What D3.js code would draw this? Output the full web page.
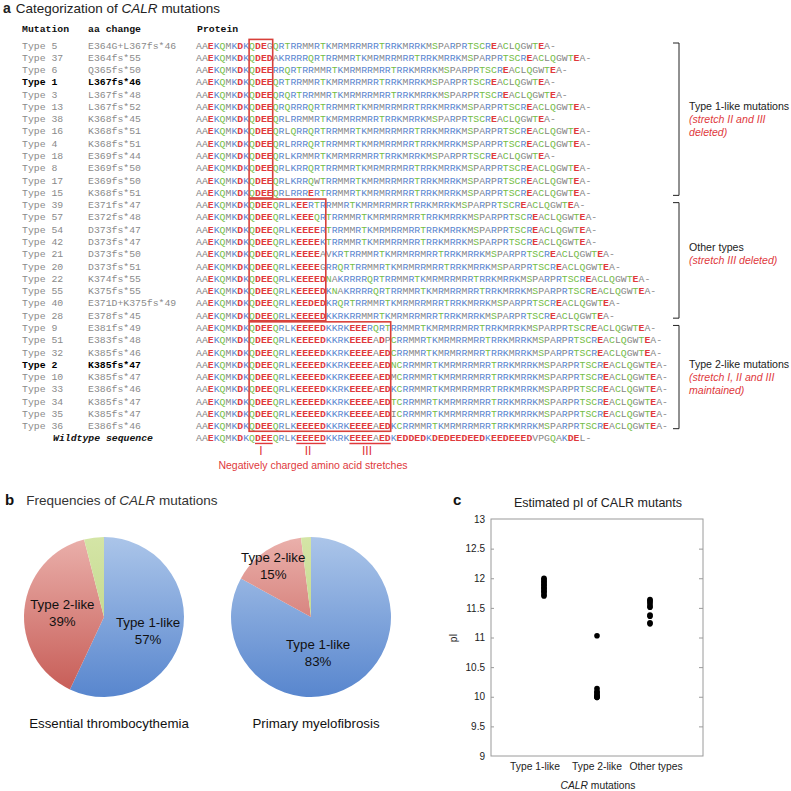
<!DOCTYPE html>
<html><head><meta charset="utf-8">
<script src="https://cdn.jsdelivr.net/npm/d3@7"></script>
<style>body{margin:0;background:#fff}svg{display:block}</style>
</head><body>
<script>
// ---------- DATA ----------
const mutationNames = ["Type 5","Type 37","Type 6","Type 1","Type 3","Type 13","Type 38","Type 16","Type 4","Type 18","Type 8","Type 17","Type 15",
  "Type 39","Type 57","Type 54","Type 42","Type 21","Type 20","Type 22","Type 55","Type 40","Type 28",
  "Type 9","Type 51","Type 32","Type 2","Type 10","Type 33","Type 34","Type 35","Type 36"];
const aaChanges = ["E364G+L367fs*46","E364fs*55","Q365fs*50","L367fs*46","L367fs*48","L367fs*52","K368fs*45","K368fs*51","K368fs*51","E369fs*44","E369fs*50","E369fs*50","K368fs*51",
  "E371fs*47","E372fs*48","D373fs*47","D373fs*47","D373fs*50","D373fs*51","K374fs*55","K375fs*55","E371D+K375fs*49","E378fs*45",
  "E381fs*49","E383fs*48","K385fs*46","K385fs*47","K385fs*47","E386fs*46","K385fs*47","K385fs*47","E386fs*46"];
const proteinSeqs = [
"AAEKQMKDKQDEGQRTRRMMRTKMRMRRMRRTRRKMRRKMSPARPRTSCREACLQGWTEA-",
"AAEKQMKDKQDEDAKRRRRQRTRRMMRTKMRMRRMRRTRRKMRRKMSPARPRTSCREACLQGWTEA-",
"AAEKQMKDKQDEERRQRTRRMMRTKMRMRRMRRTRRKMRRKMSPARPRTSCREACLQGWTEA-",
"AAEKQMKDKQDEEQRTRRMMRTKMRMRRMRRTRRKMRRKMSPARPRTSCREACLQGWTEA-",
"AAEKQMKDKQDEEQRQRTRRMMRTKMRMRRMRRTRRKMRRKMSPARPRTSCREACLQGWTEA-",
"AAEKQMKDKQDEEQRQRRRQRTRRMMRTKMRMRRMRRTRRKMRRKMSPARPRTSCREACLQGWTEA-",
"AAEKQMKDKQDEEQRLRRMMRTKMRMRRMRRTRRKMRRKMSPARPRTSCREACLQGWTEA-",
"AAEKQMKDKQDEEQRLQRRQRTRRMMRTKMRMRRMRRTRRKMRRKMSPARPRTSCREACLQGWTEA-",
"AAEKQMKDKQDEEQRLRRRQRTRRMMRTKMRMRRMRRTRRKMRRKMSPARPRTSCREACLQGWTEA-",
"AAEKQMKDKQDEEQRLKRMMRTKMRMRRMRRTRRKMRRKMSPARPRTSCREACLQGWTEA-",
"AAEKQMKDKQDEEQRLKRRQRTRRMMRTKMRMRRMRRTRRKMRRKMSPARPRTSCREACLQGWTEA-",
"AAEKQMKDKQDEEQRLKRRQWTRRMMRTKMRMRRMRRTRRKMRRKMSPARPRTSCREACLQGWTEA-",
"AAEKQMKDKQDEEQRLRRRERTRRMMRTKMRMRRMRRTRRKMRRKMSPARPRTSCREACLQGWTEA-",
"AAEKQMKDKQDEEQRLKEERTRRMMRTKMRMRRMRRTRRKMRRKMSPARPRTSCREACLQGWTEA-",
"AAEKQMKDKQDEEQRLKEEEQRTRRMMRTKMRMRRMRRTRRKMRRKMSPARPRTSCREACLQGWTEA-",
"AAEKQMKDKQDEEQRLKEEEERTRRMMRTKMRMRRMRRTRRKMRRKMSPARPRTSCREACLQGWTEA-",
"AAEKQMKDKQDEEQRLKEEEEKTRRMMRTKMRMRRMRRTRRKMRRKMSPARPRTSCREACLQGWTEA-",
"AAEKQMKDKQDEEQRLKEEEEAVKRTRRMMRTKMRMRRMRRTRRKMRRKMSPARPRTSCREACLQGWTEA-",
"AAEKQMKDKQDEEQRLKEEEEGRRQRTRRMMRTKMRMRRMRRTRRKMRRKMSPARPRTSCREACLQGWTEA-",
"AAEKQMKDKQDEEQRLKEEEEDNAKRRRRQRTRRMMRTKMRMRRMRRTRRKMRRKMSPARPRTSCREACLQGWTEA-",
"AAEKQMKDKQDEEQRLKEEEEDKNAKRRRRQRTRRMMRTKMRMRRMRRTRRKMRRKMSPARPRTSCREACLQGWTEA-",
"AAEKQMKDKQDEEQRLKEEDEDKRQRTRRMMRTKMRMRRMRRTRRKMRRKMSPARPRTSCREACLQGWTEA-",
"AAEKQMKDKQDEEQRLKEEEEDKKRKRRMMRTKMRMRRMRRTRRKMRRKMSPARPRTSCREACLQGWTEA-",
"AAEKQMKDKQDEEQRLKEEEEDKKRKEEERQRTRRMMRTKMRMRRMRRTRRKMRRKMSPARPRTSCREACLQGWTEA-",
"AAEKQMKDKQDEEQRLKEEEEDKKRKEEEEADPCRRMMRTKMRMRRMRRTRRKMRRKMSPARPRTSCREACLQGWTEA-",
"AAEKQMKDKQDEEQRLKEEEEDKKRKEEEEAEDCRRMMRTKMRMRRMRRTRRKMRRKMSPARPRTSCREACLQGWTEA-",
"AAEKQMKDKQDEEQRLKEEEEDKKRKEEEEAEDNCRRMMRTKMRMRRMRRTRRKMRRKMSPARPRTSCREACLQGWTEA-",
"AAEKQMKDKQDEEQRLKEEEEDKKRKEEEEAEDMCRRMMRTKMRMRRMRRTRRKMRRKMSPARPRTSCREACLQGWTEA-",
"AAEKQMKDKQDEEQRLKEEEEDKKRKEEEEAEDKCRRMMRTKMRMRRMRRTRRKMRRKMSPARPRTSCREACLQGWTEA-",
"AAEKQMKDKQDEEQRLKEEEEDKKRKEEEEAEDTCRRMMRTKMRMRRMRRTRRKMRRKMSPARPRTSCREACLQGWTEA-",
"AAEKQMKDKQDEEQRLKEEEEDKKRKEEEEAEDICRRMMRTKMRMRRMRRTRRKMRRKMSPARPRTSCREACLQGWTEA-",
"AAEKQMKDKQDEEQRLKEEEEDKKRKEEEEAEDKCRRMMRTKMRMRRMRRTRRKMRRKMSPARPRTSCREACLQGWTEA-"];
const wildtypeSeq = "AAEKQMKDKQDEEQRLKEEEEDKKRKEEEEAEDKEDDEDKDEDEEDEEDKEEDEEEDVPGQAKDEL-";
const boldMutations = ["Type 1","Type 2"];
const groupFirstRow = [0, 13, 23];
const groupLastRow = [12, 22, 31];
const groupBoxLastCol = [12, 21, 32];
const groupTitles = ["Type 1-like mutations","Other types","Type 2-like mutations"];
const groupNotes = [["(stretch II and III","deleted)"],["(stretch III deleted)"],["(stretch I, II and III","maintained)"]];
const stretchNames = ["I","II","III"];
const stretchFirstCol = [10, 17, 26];
const stretchLastCol = [12, 21, 32];

const pieCategories = ["Type 1-like","Type 2-like","Other types"];
const etValues = [57, 39, 4];
const pmfValues = [83, 15, 2];
const etLabels = ["57%","39%",""];
const pmfLabels = ["83%","15%",""];
const pieNames = ["Essential thrombocythemia","Primary myelofibrosis"];

const piCategories = ["Type 1-like","Type 2-like","Other types"];
const piType1Like = [12.0, 11.98, 11.95, 11.93, 11.9, 11.88, 11.85, 11.83, 11.8, 11.78, 11.76, 11.72, 11.7];
const piType2Like = [11.03, 10.14, 10.09, 10.07, 10.04, 10.02, 10.0, 9.99, 9.99];
const piOther = [11.64, 11.62, 11.6, 11.57, 11.53, 11.51, 11.38, 11.36, 11.25, 11.23];
const piTicks = [9, 9.5, 10, 10.5, 11, 11.5, 12, 12.5, 13];

// ---------- SETUP ----------
const svg = d3.select("body").append("svg").attr("width",791).attr("height",791);
const sans = "Helvetica, Arial, 'Liberation Sans', sans-serif";
const mono = "'Liberation Mono','Courier New',monospace";
const RED = "#e0393c", BLUE = "#5a86cf", GREEN = "#74bd45", GRAY = "#858585";
const defs = svg.append("defs");

// ---------- PANEL A ----------
const charW = 5.9, seqFs = 9.8;
const xCol = d3.scaleLinear().domain([0,1]).range([196, 196+charW]);
const yRow = d3.scaleLinear().domain([0,1]).range([45, 45+12.28]);

const ta = svg.append("text").attr("x",3).attr("y",13).attr("font-family",sans).attr("font-size",13.5).attr("fill","#222");
ta.append("tspan").attr("font-weight","bold").attr("font-size",14).text("a");
ta.append("tspan").attr("dx",5).text("Categorization of ");
ta.append("tspan").attr("font-style","italic").text("CALR");
ta.append("tspan").text(" mutations");

[["Mutation",22],["aa change",88],["Protein",197]].forEach(([t,x])=>{
  svg.append("text").attr("x",x).attr("y",32).attr("font-family",mono).attr("font-size",seqFs)
    .attr("font-weight","bold").attr("fill","#111").text(t);
});

const rowsG = svg.append("g");
mutationNames.forEach((m,r)=>{
  const b = boldMutations.includes(m);
  rowsG.append("text").attr("x",22).attr("y",yRow(r)+3.5).attr("font-family",mono).attr("font-size",seqFs)
    .attr("font-weight",b?"bold":"normal").attr("fill",b?"#000":"#8a8a8a").text(m);
  rowsG.append("text").attr("x",88).attr("y",yRow(r)+3.5).attr("font-family",mono).attr("font-size",seqFs)
    .attr("font-weight",b?"bold":"normal").attr("fill",b?"#000":"#8a8a8a").text(aaChanges[r]);
});
svg.append("text").attr("x",53).attr("y",yRow(32)+3.5).attr("font-family",mono).attr("font-size",seqFs)
  .attr("font-weight","bold").attr("font-style","italic").attr("fill","#111").text("Wildtype sequence");

const aaColor = c => "DE".includes(c) ? RED : "KRH".includes(c) ? BLUE : "QSTNCY".includes(c) ? GREEN : GRAY;
proteinSeqs.concat([wildtypeSeq]).forEach((s,r)=>{
  rowsG.append("g").selectAll("text").data(s.split("")).join("text")
    .attr("x",(d,i)=>xCol(i)).attr("y",yRow(r)+3.5)
    .attr("font-family",mono).attr("font-size",seqFs)
    .attr("font-weight",d=>"DE".includes(d)?"bold":"normal")
    .attr("fill",aaColor).text(d=>d);
});

// boxes + brackets + group labels
groupFirstRow.forEach((r0,gi)=>{
  const r1 = groupLastRow[gi];
  svg.append("rect").attr("x",xCol(9)).attr("y",yRow(r0)-5.6)
    .attr("width",xCol(groupBoxLastCol[gi]+1)-xCol(9)).attr("height",yRow(r1)-yRow(r0)+11.2)
    .attr("fill","none").attr("stroke","#d8403a").attr("stroke-width",1.6);
  const bx = 679, yt = yRow(r0)-2, yb = yRow(r1)+3;
  svg.append("path").attr("d",`M${bx-6},${yt}H${bx}V${yb}H${bx-6}`).attr("fill","none").attr("stroke","#222").attr("stroke-width",1);
  const mid = (yRow(r0)+yRow(r1))/2;
  svg.append("text").attr("x",689).attr("y",mid-13+4).attr("font-family",sans).attr("font-size",10.6).attr("fill","#222").text(groupTitles[gi]);
  groupNotes[gi].forEach((t,k)=>{
    svg.append("text").attr("x",689).attr("y",mid-13+4+13*(k+1)).attr("font-family",sans).attr("font-size",10.6)
      .attr("font-style","italic").attr("fill",RED).text(t);
  });
});

// stretches under wildtype
stretchNames.forEach((n,i)=>{
  const x0 = xCol(stretchFirstCol[i]), x1 = xCol(stretchLastCol[i]+1);
  svg.append("line").attr("x1",x0).attr("x2",x1).attr("y1",yRow(32)+5.5).attr("y2",yRow(32)+5.5).attr("stroke",RED).attr("stroke-width",1.4);
  svg.append("text").attr("x",(x0+x1)/2-3).attr("y",yRow(32)+17).attr("text-anchor","middle").attr("font-family",sans)
    .attr("font-size",12).attr("fill",RED).text(n);
});
svg.append("text").attr("x",313).attr("y",469).attr("text-anchor","middle").attr("font-family",sans).attr("font-size",10.5)
  .attr("fill",RED).text("Negatively charged amino acid stretches");

// ---------- PANEL B ----------
const tb = svg.append("text").attr("x",5).attr("y",505).attr("font-family",sans).attr("font-size",13.5).attr("fill","#333");
tb.append("tspan").attr("font-weight","bold").attr("font-size",15).attr("fill","#111").text("b");
tb.append("tspan").attr("dx",12).text("Frequencies of ");
tb.append("tspan").attr("font-style","italic").text("CALR");
tb.append("tspan").text(" mutations");

const R = 80, pieCy = 617;
const pieCx = d3.scalePoint().domain(pieNames).range([104, 311]);
const gradStops = [["#abc5e9","#5886ce"],["#eab0ab","#c65a54"],["#d4e5a6","#b8cf7c"]];
const pie = d3.pie().sort(null).value(d=>d);
const arc = d3.arc().innerRadius(0).outerRadius(R);
const labelPolar = [[[46,4],[42,2]],[[36,16],[64,-2]]];
[[etValues,etLabels],[pmfValues,pmfLabels]].forEach(([vals,pl],pi)=>{
  const cx = pieCx(pieNames[pi]);
  gradStops.forEach((st,k)=>{
    const lg = defs.append("linearGradient").attr("id",`g${pi}_${k}`).attr("gradientUnits","userSpaceOnUse")
      .attr("x1",0).attr("x2",0).attr("y1",-R).attr("y2",R);
    lg.append("stop").attr("offset","0%").attr("stop-color",st[0]);
    lg.append("stop").attr("offset","100%").attr("stop-color",st[1]);
  });
  const g = svg.append("g").attr("transform",`translate(${cx},${pieCy})`);
  const arcs = pie(vals);
  g.selectAll("path").data(arcs).join("path").attr("d",arc)
    .attr("fill",(d,k)=>`url(#g${pi}_${k})`);
  arcs.forEach((a,k)=>{
    if(!pl[k]) return;
    const [rr,da] = labelPolar[pi][k];
    const ang = (a.startAngle+a.endAngle)/2 + da*Math.PI/180*((k===0 && pi===1)?1.2:1);
    const lx = rr*Math.sin(ang), ly = -rr*Math.cos(ang);
    g.append("text").attr("x",lx).attr("y",ly-3).attr("text-anchor","middle").attr("font-family",sans)
      .attr("font-size",13.3).attr("fill","#111").text(pieCategories[k]);
    g.append("text").attr("x",lx).attr("y",ly+14).attr("text-anchor","middle").attr("font-family",sans)
      .attr("font-size",13.3).attr("fill","#111").text(pl[k]);
  });
  svg.append("text").attr("x",cx+5).attr("y",728).attr("text-anchor","middle").attr("font-family",sans)
    .attr("font-size",13.3).attr("fill","#111").text(pieNames[pi]);
});

// ---------- PANEL C ----------
svg.append("text").attr("x",453).attr("y",505).attr("font-family",sans).attr("font-size",15).attr("font-weight","bold").attr("fill","#111").text("c");
const px0 = 491, px1 = 703, py0 = 519, py1 = 756;
const xs = d3.scalePoint().domain(piCategories).range([px0, px1]).padding(1);
const ys = d3.scaleLinear().domain([9,13]).range([py1, py0]);
svg.append("text").attr("x",598).attr("y",507).attr("text-anchor","middle").attr("font-family",sans).attr("font-size",12.5)
  .attr("fill","#222").text("Estimated pI of CALR mutants");
svg.append("rect").attr("x",px0).attr("y",py0).attr("width",px1-px0).attr("height",py1-py0)
  .attr("fill","none").attr("stroke","#9a9a9a").attr("stroke-width",1);
const yAxL = d3.axisLeft(ys).tickValues(piTicks).tickSize(0).tickPadding(6).tickFormat(d=>String(d));
const gyl = svg.append("g").attr("transform",`translate(${px0},0)`).call(yAxL);
gyl.select(".domain").remove();
gyl.selectAll("text").attr("font-family",sans).attr("font-size",10).attr("fill","#222");
const yAxR = d3.axisLeft(ys).tickValues(piTicks.slice(1,-1)).tickSize(4).tickFormat("");
const gyr = svg.append("g").attr("transform",`translate(${px1},0)`).call(yAxR);
gyr.select(".domain").remove(); gyr.selectAll("line").attr("stroke","#9a9a9a");
const yAxI = d3.axisRight(ys).tickValues(piTicks.slice(1,-1)).tickSize(3).tickFormat("");
const gyi = svg.append("g").attr("transform",`translate(${px0},0)`).call(yAxI);
gyi.select(".domain").remove(); gyi.selectAll("line").attr("stroke","#9a9a9a");

const labelNudge = [-9, 0, 6];
piCategories.forEach((c,i)=>{
  svg.append("text").attr("x",xs(c)+labelNudge[i]).attr("y",770).attr("text-anchor","middle").attr("font-family",sans)
    .attr("font-size",10.3).attr("fill","#222").text(c);
});
const xt = svg.append("text").attr("x",598).attr("y",789).attr("text-anchor","middle").attr("font-family",sans).attr("font-size",10.3).attr("fill","#222");
xt.append("tspan").attr("font-style","italic").text("CALR");
xt.append("tspan").text(" mutations");
svg.append("text").attr("transform","translate(457,638) rotate(-90)").attr("text-anchor","middle").attr("font-family",sans)
  .attr("font-size",10.3).attr("fill","#222").text("pI");

[piType1Like, piType2Like, piOther].forEach((vals,i)=>{
  svg.append("g").selectAll("circle").data(vals).join("circle")
    .attr("cx",xs(piCategories[i])).attr("cy",d=>ys(d)).attr("r",2.8).attr("fill","#000");
});
</script>
</body></html>
